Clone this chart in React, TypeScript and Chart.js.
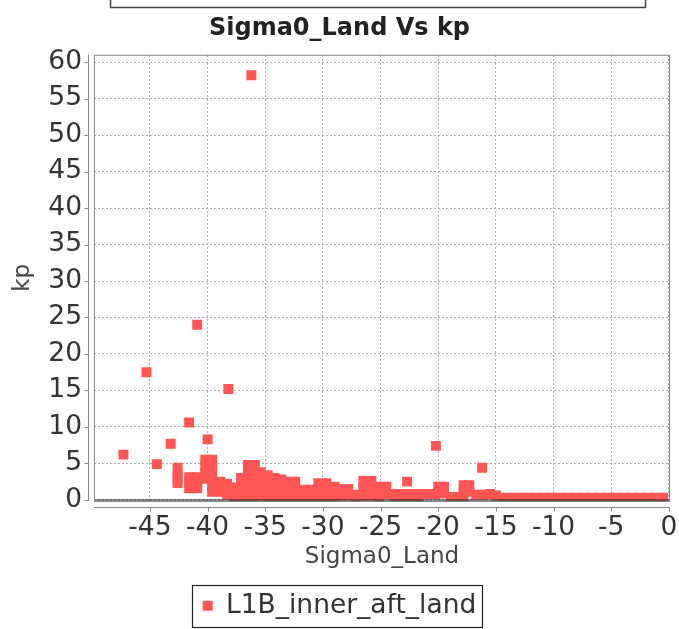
import { useEffect, useRef } from "react";
import { Chart, registerables } from "chart.js";

Chart.register(...registerables);

const chartTitle = "Sigma0_Land Vs kp";
const xAxisTitle = "Sigma0_Land";
const yAxisTitle = "kp";
const seriesName = "L1B_inner_aft_land";

const xTickValues = [-45, -40, -35, -30, -25, -20, -15, -10, -5, 0];
const yTickValues = [0, 5, 10, 15, 20, 25, 30, 35, 40, 45, 50, 55, 60];

const outlierPoints: [number, number][] = [
  [-36.2, 58.2], [-40.9, 24.0], [-45.3, 17.5], [-38.2, 15.2], [-41.6, 10.6],
  [-40.0, 8.3], [-43.2, 7.7], [-47.3, 6.2], [-44.4, 4.9], [-20.2, 7.4],
  [-16.2, 4.4], [-22.7, 2.5],
  [-42.6, 4.4], [-42.6, 3.6], [-42.6, 2.9], [-42.6, 2.3],
];

const clusterPoints: [number, number][] = [
  [-41.6, 3.1], [-41.6, 2.4], [-41.6, 1.6],
  [-40.9, 3.1], [-40.9, 2.4], [-40.9, 1.6],
  [-40.2, 5.5], [-40.2, 4.6], [-40.2, 3.7], [-40.2, 2.9],
  [-39.6, 5.5], [-39.6, 4.6], [-39.6, 3.7], [-39.6, 2.5], [-39.6, 1.6], [-39.6, 1.1],
  [-38.9, 2.5], [-38.9, 1.6], [-38.9, 1.1],
  [-38.3, 2.2], [-38.3, 1.3], [-38.3, 0.7],
  [-37.7, 1.7], [-37.7, 0.9], [-37.7, 0.4],
  [-37.1, 3.0], [-37.1, 2.0], [-37.1, 1.0], [-37.1, 0.3],
  [-36.5, 4.8], [-36.5, 3.8], [-36.5, 2.8], [-36.5, 1.8], [-36.5, 0.8], [-36.5, 0.3],
  [-35.9, 4.8], [-35.9, 3.8], [-35.9, 2.8], [-35.9, 1.8], [-35.9, 0.8], [-35.9, 0.3],
  [-35.4, 3.8], [-35.4, 2.8], [-35.4, 1.5], [-35.4, 0.6],
  [-34.8, 3.4], [-34.8, 2.4], [-34.8, 1.4], [-34.8, 0.4],
  [-34.2, 3.0], [-34.2, 2.0], [-34.2, 1.0], [-34.2, 0.3],
  [-33.6, 2.8], [-33.6, 1.8], [-33.6, 0.9], [-33.6, 0.3],
  [-33.0, 2.5], [-33.0, 1.5], [-33.0, 0.5],
  [-32.4, 2.5], [-32.4, 1.5], [-32.4, 0.5],
  [-31.7, 1.4], [-31.7, 0.5],
  [-31.1, 1.4], [-31.1, 0.5],
  [-30.4, 2.3], [-30.4, 1.3], [-30.4, 0.4],
  [-29.7, 2.3], [-29.7, 1.3], [-29.7, 0.4],
  [-29.0, 1.8], [-29.0, 0.9], [-29.0, 0.3],
  [-28.4, 1.5], [-28.4, 0.6],
  [-27.8, 1.5], [-27.8, 0.6],
  [-27.2, 0.7], [-27.2, 0.3],
  [-26.5, 2.6], [-26.5, 1.6], [-26.5, 0.6],
  [-25.8, 2.6], [-25.8, 1.6], [-25.8, 0.6],
  [-25.1, 1.8], [-25.1, 0.9], [-25.1, 0.3],
  [-24.5, 1.8], [-24.5, 0.8],
  [-23.8, 0.8], [-23.8, 0.3],
  [-23.1, 0.8], [-23.1, 0.3],
  [-22.4, 0.8], [-22.4, 0.3],
  [-21.7, 0.8], [-21.7, 0.3],
  [-21.0, 0.8], [-20.3, 0.8],
  [-20.0, 1.8], [-20.0, 0.9],
  [-19.5, 1.8], [-19.5, 0.9],
  [-18.9, 0.4], [-18.3, 0.4],
  [-17.8, 2.0], [-17.8, 1.1], [-17.8, 0.3],
  [-17.3, 2.0], [-17.3, 1.1],
  [-16.7, 0.7], [-16.1, 0.7], [-15.5, 0.8], [-15.0, 0.6],
];

const tailPoints: [number, number][] = [
  [-14.4, 0.3], [-13.7, 0.3], [-13.0, 0.3], [-12.3, 0.3], [-11.6, 0.3],
  [-10.9, 0.3], [-10.2, 0.3], [-9.5, 0.3], [-8.8, 0.3], [-8.1, 0.3],
  [-7.4, 0.3], [-6.7, 0.3], [-6.0, 0.3], [-5.3, 0.3], [-4.6, 0.3],
  [-3.9, 0.3], [-3.2, 0.3], [-2.5, 0.3], [-1.8, 0.3], [-1.1, 0.3], [-0.5, 0.3],
];

const FONT = "'DejaVu Sans', sans-serif";

const decorPlugin = {
  id: "decor",
  beforeDraw(chart: any) {
    const { ctx, width, height } = chart;
    ctx.save();
    ctx.fillStyle = "#ffffff";
    ctx.fillRect(0, 0, width, height);
    ctx.strokeStyle = "#444444";
    ctx.lineWidth = 1.5;
    ctx.strokeRect(110.5, -10, 535, 17.5);
    ctx.restore();
  },
  afterDatasetsDraw(chart: any) {
    const { ctx, chartArea } = chart;
    const { left, right, top, bottom } = chartArea;
    const xs = chart.scales.x;
    const ys = chart.scales.y;
    ctx.save();
    ctx.strokeStyle = "rgba(40,40,40,0.75)";
    ctx.lineWidth = 1.5;
    ctx.beginPath();
    ctx.moveTo(left, bottom - 1);
    ctx.lineTo(right, bottom - 1);
    ctx.stroke();
    ctx.strokeStyle = "#888888";
    ctx.lineWidth = 1;
    ctx.strokeRect(left + 0.5, top + 0.5, right - left - 1, bottom - top);
    const ax = Math.round(left - 6) + 0.5;
    ctx.beginPath();
    ctx.moveTo(ax, top);
    ctx.lineTo(ax, bottom);
    yTickValues.forEach((v) => {
      const p = Math.round(ys.getPixelForValue(v)) + 0.5;
      ctx.moveTo(ax - 4, p);
      ctx.lineTo(ax, p);
    });
    const ay = Math.round(bottom + 6) + 0.5;
    ctx.moveTo(left, ay);
    ctx.lineTo(right, ay);
    xTickValues.forEach((v) => {
      const p = Math.round(xs.getPixelForValue(v)) + 0.5;
      ctx.moveTo(p, ay);
      ctx.lineTo(p, ay + 4);
    });
    ctx.stroke();
    ctx.restore();
  },
  afterDraw(chart: any) {
    const lg = chart.legend;
    if (!lg || !lg.legendHitBoxes || !lg.legendHitBoxes.length) return;
    const hb = lg.legendHitBoxes[0];
    const { ctx } = chart;
    ctx.save();
    ctx.strokeStyle = "#222222";
    ctx.lineWidth = 1.2;
    const l = Math.round(hb.left - 11) + 0.5;
    const r = Math.round(hb.left + hb.width + 6) + 0.5;
    const t = Math.round(hb.top - 8) + 0.5;
    const b = Math.round(hb.top + hb.height + 8) + 0.5;
    ctx.strokeRect(l, t, r - l, b - t);
    ctx.restore();
  },
};

export default function App() {
  const canvasRef = useRef<HTMLCanvasElement | null>(null);

  useEffect(() => {
    if (!canvasRef.current) return;
    Chart.defaults.font.family = FONT;
    const allPoints = [...outlierPoints, ...clusterPoints, ...tailPoints].map(
      ([x, y]) => ({ x, y })
    );
    const chart = new Chart(canvasRef.current, {
      type: "scatter",
      data: {
        datasets: [
          {
            label: seriesName,
            data: allPoints,
            pointStyle: "rect",
            pointRadius: 7,
            pointHoverRadius: 7,
            pointBorderWidth: 0,
            backgroundColor: "rgb(255,85,85)",
            borderColor: "rgb(255,85,85)",
            clip: 0,
          } as any,
        ],
      },
      options: {
        animation: false,
        responsive: false,
        devicePixelRatio: 1,
        layout: { padding: { left: 0, right: 0, top: 0, bottom: 0 } },
        plugins: {
          title: {
            display: true,
            text: chartTitle,
            color: "#222222",
            font: { size: 24, weight: "bold", family: FONT },
            padding: { top: 14, bottom: 12 },
          },
          legend: {
            display: true,
            position: "bottom",
            labels: {
              usePointStyle: true,
              pointStyle: "rect",
              boxWidth: 10,
              boxHeight: 10,
              padding: 10,
              color: "#333333",
              font: { size: 26.5, family: FONT },
            },
          },
          tooltip: { enabled: false },
        },
        scales: {
          x: {
            type: "linear",
            min: -49.85,
            max: 0.1,
            afterBuildTicks: (s: any) => {
              s.ticks = xTickValues.map((v) => ({ value: v }));
            },
            afterFit: (s: any) => {
              s.height = 81.5;
              s.paddingLeft = 0;
              s.paddingRight = 9;
            },
            grid: { color: "#aaaaaa", lineWidth: 1, drawTicks: false },
            border: { display: false, dash: [2, 2] },
            ticks: {
              color: "#333333",
              font: { size: 26.5, family: FONT },
              padding: 11,
              maxRotation: 0,
              autoSkip: false,
              callback: (v: any) => String(v),
            },
            title: {
              display: true,
              text: xAxisTitle,
              color: "#444444",
              font: { size: 23, family: FONT },
              padding: { top: 0, bottom: 12 },
            },
          },
          y: {
            type: "linear",
            min: -0.15,
            max: 61,
            afterBuildTicks: (s: any) => {
              s.ticks = yTickValues.map((v) => ({ value: v }));
            },
            afterFit: (s: any) => {
              s.width = 94;
            },
            grid: { color: "#aaaaaa", lineWidth: 1, drawTicks: false },
            border: { display: false, dash: [2, 2] },
            ticks: {
              color: "#333333",
              font: { size: 26.5, family: FONT },
              padding: 12,
              autoSkip: false,
              callback: (v: any) => String(v),
            },
            title: {
              display: true,
              text: yAxisTitle,
              color: "#444444",
              font: { size: 23, family: FONT },
              padding: { top: 9, bottom: 0 },
            },
          },
        },
      },
      plugins: [decorPlugin],
    });
    return () => chart.destroy();
  }, []);

  return (
    <div style={{ position: "absolute", left: 0, top: 0, width: 679, height: 629, background: "#fff" }}>
      <canvas ref={canvasRef} width={679} height={629} style={{ display: "block" }} />
    </div>
  );
}
